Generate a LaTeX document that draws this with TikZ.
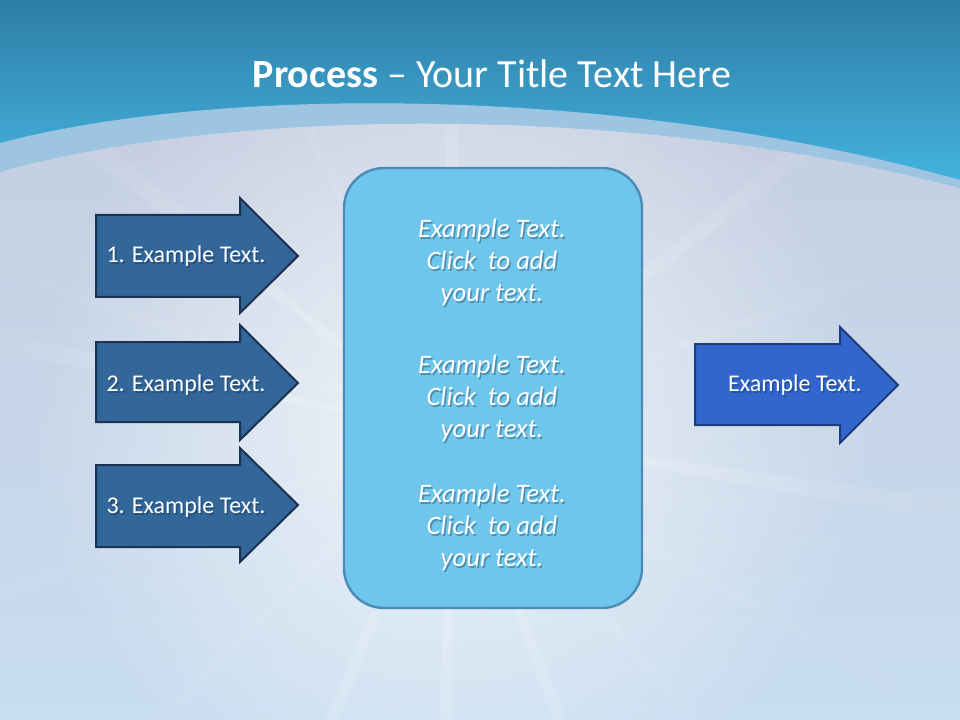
\documentclass[tikz,border=0pt]{standalone}
\usepackage{fontspec}
\setmainfont{Carlito}
\usetikzlibrary{fadings,calc}
\definecolor{topblue}{HTML}{2E7EA6}
\definecolor{midblue}{HTML}{46B8E4}
\definecolor{bandcol}{HTML}{9DC4E1}
\definecolor{grayA}{HTML}{C5CEE0}
\definecolor{grayB}{HTML}{C8DDF0}
\definecolor{arrowfill}{HTML}{336699}
\definecolor{arrowline}{HTML}{1B3252}
\definecolor{rarrowfill}{HTML}{3366CC}
\definecolor{rarrowline}{HTML}{1E3C78}
\definecolor{boxfill}{HTML}{6EC6EC}
\definecolor{boxline}{HTML}{4A8CB4}
\definecolor{shadowcol}{HTML}{0F2540}
\tikzfading[name=glowfade, inner color=transparent!0, outer color=transparent!100]
\newcommand\shnode[4]{%
  \node[#2, text=shadowcol, text opacity=0.35] (#1s) at ($(#3)+(1.5,2)$) {#4};
  \node[#2] (#1) at (#3) {#4};}
\begin{document}
\begin{tikzpicture}[x=0.75pt,y=-0.75pt,
  arrowbox/.style={fill=arrowfill, draw=arrowline, line width=1.5pt, line join=miter},
  rarrowbox/.style={fill=rarrowfill, draw=rarrowline, line width=1.5pt, line join=miter},
  panel/.style={fill=boxfill, draw=boxline, line width=1.8pt, rounded corners=30pt},
  arrowtext/.style={text=white, inner sep=0pt, anchor=base, font=\fontsize{18}{21.6}\selectfont},
  paneltext/.style={text=white, inner sep=0pt, anchor=center, align=center, font=\fontsize{20}{24}\selectfont\itshape},
  titletext/.style={text=white, inner sep=0pt, anchor=base, font=\fontsize{30}{36}\selectfont}]
\useasboundingbox (0,0) rectangle (960,720);
% background
\shade[top color=topblue, bottom color=midblue] (0,0) rectangle (960,200);
\fill[bandcol] (0,143) .. controls (220,85) and (620,85) .. (960,180) -- (960,720) -- (0,720) -- cycle;
\shade[top color=grayA, bottom color=grayB] (0,172) .. controls (220,110) and (620,100) .. (960,188) -- (960,720) -- (0,720) -- cycle;
\begin{scope}
  \clip (0,172) .. controls (220,110) and (620,100) .. (960,188) -- (960,720) -- (0,720) -- cycle;
  \fill[white, opacity=0.24, path fading=glowfade]
    (-150,-170) (1050,1030)
    foreach \a in {191,218.5,270.5,321.6,9,69,90.6,112} { (450,430) -- +(\a-1.3:600) -- +(\a+1.3:600) -- cycle };
  \fill[white, opacity=0.12, path fading=glowfade]
    (-150,-170) (1050,1030)
    foreach \a in {160,30,245,300,135,50,200,340} { (450,430) -- +(\a-0.9:600) -- +(\a+0.9:600) -- cycle };
  \fill[white, opacity=0.75, path fading=glowfade] (450,420) circle (420);
\end{scope}
% title
\node[titletext] (title) at (492,88) {\textbf{Process} – Your Title Text Here};
% central panel
\draw[panel] (344,168) rectangle (642,608);
\shnode{p1}{paneltext}{492,262}{Example Text.\\Click\ \ to add\\your text.}
\shnode{p2}{paneltext}{492,398}{Example Text.\\Click\ \ to add\\your text.}
\shnode{p3}{paneltext}{492,527}{Example Text.\\Click\ \ to add\\your text.}
% left arrows
\draw[arrowbox] (96,215) -- (240,215) -- (240,198) -- (298,256) -- (240,313) -- (240,297) -- (96,297) -- cycle;
\draw[arrowbox] (96,342) -- (240,342) -- (240,325) -- (298,383) -- (240,440) -- (240,422) -- (96,422) -- cycle;
\draw[arrowbox] (96,465) -- (240,465) -- (240,448) -- (298,505) -- (240,562) -- (240,547) -- (96,547) -- cycle;
\shnode{a1}{arrowtext}{186,263}{1. Example Text.}
\shnode{a2}{arrowtext}{186,391.5}{2. Example Text.}
\shnode{a3}{arrowtext}{186,513}{3. Example Text.}
% right arrow
\draw[rarrowbox] (695,344) -- (840,344) -- (840,327) -- (898,385) -- (840,443) -- (840,425) -- (695,425) -- cycle;
\shnode{r1}{arrowtext}{795,391.5}{Example Text.}
\end{tikzpicture}
\end{document}
